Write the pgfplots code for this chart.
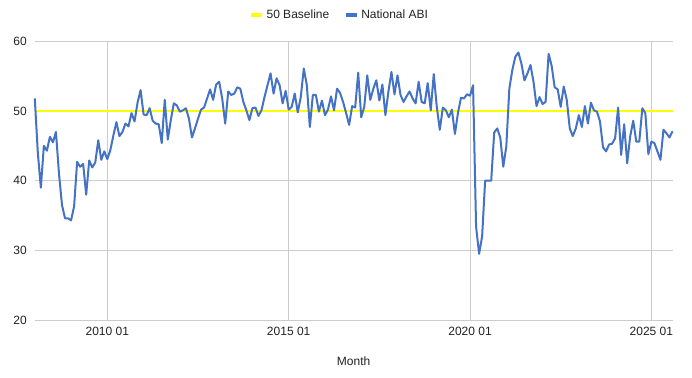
\documentclass[border=0pt]{standalone}
\usepackage{pgfplots}
\usepackage{pgfplotstable}
\pgfplotsset{compat=1.18}
\usepackage{fontspec}
\setmainfont{Liberation Sans}
\definecolor{abiblue}{HTML}{4472C4}
\definecolor{gridgray}{HTML}{CCCCCC}
\definecolor{txt}{HTML}{222222}
\definecolor{baseyellow}{HTML}{FFFF00}

\pgfplotstableread{
abi
51.8
44
39
45
44.3
46.3
45.5
47
41
36.5
34.6
34.6
34.3
36.3
42.7
42
42.4
38
42.9
41.9
42.6
45.8
43
44.2
43.1
44.4
46.5
48.4
46.4
47
48.2
47.8
49.7
48.5
51.2
53
49.5
49.4
50.4
48.6
48.2
48.1
45.4
51.6
45.9
48.7
51.1
50.8
49.9
50.1
50.4
48.9
46.2
47.5
48.9
50.2
50.5
51.8
53.1
51.6
53.8
54.2
51.8
48.2
52.8
52.3
52.5
53.4
53.2
51.3
50.1
48.7
50.4
50.5
49.3
50.1
52
53.7
55.4
52.5
54.7
53.7
51.1
52.9
50.2
50.6
52.5
49.8
52
56.1
53.7
47.7
52.3
52.3
49.9
51.5
49.4
50.2
52.1
50.1
53.2
52.6
51.3
49.7
48
50.7
50.5
55.5
49.1
50.6
55.1
51.6
53.2
54.4
51.5
53.8
49.4
52.8
55.6
52.4
55.1
52.3
51.3
52.1
52.8
51.8
51.1
54.2
51.3
51.1
54
50.1
55.3
50.6
47.3
50.5
50.1
49.1
50.2
46.7
49.7
51.9
51.8
52.4
52.2
53.7
33.4
29.5
32
40
40
40
46.9
47.5
46.2
42
44.9
53.2
55.9
57.8
58.4
56.8
54.4
55.4
56.6
54.2
50.7
52
51
51.3
58.2
56.5
53.4
53.1
50.6
53.5
51.6
47.5
46.4
47.5
49.4
47.7
50.7
48.2
51.2
50.1
49.9
48.5
44.8
44.2
45.2
45.3
46.1
50.5
43.7
48.1
42.5
46.4
48.6
45.6
45.6
50.4
49.7
43.8
45.6
45.4
44.2
43
47.3
46.8
46.2
47.1
}\abidata

\begin{document}
\begin{tikzpicture}
\useasboundingbox (0,0) rectangle (519pt,283.5pt);
\begin{axis}[
  at={(26.1pt,43.5pt)}, anchor=south west,
  scale only axis, width=478.3pt, height=209pt,
  xmin=0, xmax=211, ymin=20, ymax=60,
  clip=false,
  xtick={24,84,144,204},
  xticklabels={2010 01,2015 01,2020 01,2025 01},
  ytick={20,30,40,50,60},
  grid=major,
  major grid style={gridgray, line width=0.75pt},
  axis line style={draw=none},
  major tick length=0pt,
  /pgf/number format/assume math mode=true,
  tick label style={font=\fontsize{9}{10}\selectfont, text=txt},
  yticklabel style={xshift=-2.5pt},
  xticklabel style={yshift=-1.5pt},
  xlabel={Month},
  xlabel style={at={(axis description cs:0.5,-0.147)}, anchor=center, font=\fontsize{9}{10}\selectfont, text=txt},
  legend columns=2,
  legend style={draw=none, fill=none, at={(axis description cs:0.4785,1.0944)}, anchor=center,
    font=\fontsize{9}{10}\selectfont, text=txt,
    /tikz/every even column/.append style={column sep=9pt}},
  legend image code/.code={\draw[#1, line width=3pt] (0pt,0pt) -- (8pt,0pt);},
]
\addplot[baseyellow, line width=1.6pt] coordinates {(0,50) (211,50)};
\addlegendentry{50 Baseline}
\addplot[abiblue, line width=1.5pt, line join=round] table[x expr=\coordindex, y=abi] {\abidata};
\addlegendentry{National ABI}
\end{axis}
\end{tikzpicture}
\end{document}
